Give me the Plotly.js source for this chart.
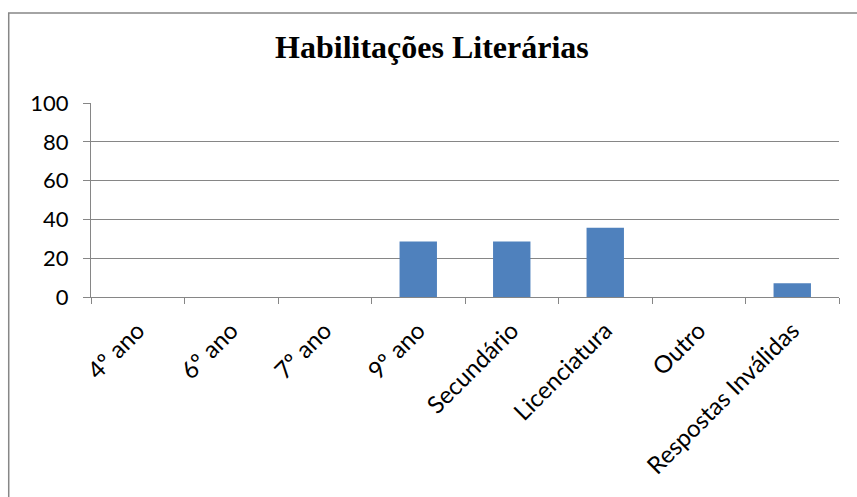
<!DOCTYPE html>
<html>
<head>
<meta charset="utf-8">
<script src="https://cdn.plot.ly/plotly-3.0.1.min.js"></script>
<style>
  html, body { margin: 0; padding: 0; background: #fff; }
  #chart { width: 857px; height: 497px; }
</style>
</head>
<body>
<div id="chart"></div>
<script>
// Habilitações Literárias (%)
var categories = ['4º ano', '6º ano', '7º ano', '9º ano', 'Secundário', 'Licenciatura', 'Outro', 'Respostas Inválidas'];
var percentages = [0, 0, 0, 28.57, 28.57, 35.71, 0, 7.14];
var yTicks = [0, 20, 40, 60, 80, 100];

var bars = {
    x: categories,
    y: percentages,
    type: 'bar',
    width: 0.4,
    marker: { color: '#4F81BD' },
    hoverinfo: 'x+y'
};

var layout = {
    width: 857,
    height: 497,
    margin: { l: 91, r: 18, t: 103, b: 200 },
    paper_bgcolor: '#fff',
    plot_bgcolor: '#fff',
    showlegend: false,
    font: { family: 'Lato, sans-serif', color: '#000' },
    title: {
        text: '<b>Habilitações Literárias</b>',
        font: { family: '"Liberation Serif", serif', size: 32, color: '#000' },
        x: 0.504,
        xanchor: 'center',
        y: 0.905,
        yanchor: 'middle'
    },
    xaxis: {
        type: 'category',
        tickson: 'boundaries',
        ticks: 'outside',
        ticklen: 6,
        tickcolor: '#868686',
        tickangle: -45,
        ticklabelstandoff: 9,
        tickfont: { size: 24 },
        showline: true,
        linecolor: '#868686',
        linewidth: 1,
        showgrid: false,
        fixedrange: true
    },
    yaxis: {
        range: [0, 100],
        tickvals: yTicks,
        ticks: 'outside',
        ticklen: 7,
        tickcolor: '#868686',
        ticklabelstandoff: 10,
        tickfont: { size: 22 },
        showline: true,
        linecolor: '#868686',
        linewidth: 1,
        showgrid: true,
        gridcolor: '#868686',
        gridwidth: 1,
        zeroline: false,
        fixedrange: true
    },
    shapes: [{
        // outer chart frame (only left and top edges visible)
        type: 'rect',
        xref: 'paper', yref: 'paper',
        x0: -0.11, x1: 2, y0: -2, y1: 1.464,
        line: { color: '#878787', width: 1.5 },
        layer: 'below'
    }]
};

Plotly.newPlot('chart', [bars], layout, { displayModeBar: false, staticPlot: true });
</script>
</body>
</html>
